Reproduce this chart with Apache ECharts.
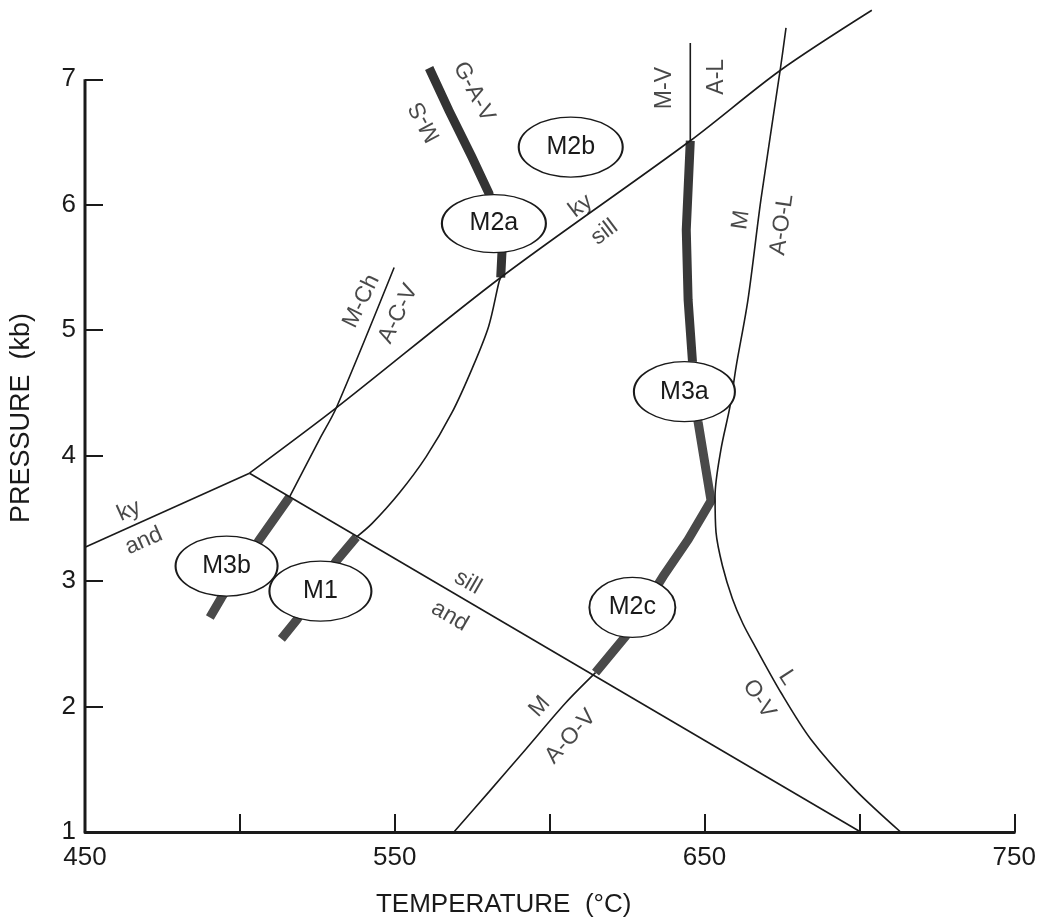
<!DOCTYPE html>
<html>
<head>
<meta charset="utf-8">
<script src="https://cdn.jsdelivr.net/npm/echarts@6/dist/echarts.min.js"></script>
<style>
  html, body { margin: 0; padding: 0; background: #fff; }
  #chart { width: 1039px; height: 923px; }
</style>
</head>
<body>
<div id="chart"></div>
<script>
// axis ticks / labels
const xTickValues = [500, 550, 600, 650, 700, 750];
const xLabelValues = [450, 550, 650, 750];
const yTickValues = [1, 2, 3, 4, 5, 6, 7];

// thin reaction curves  [T (°C), P (kb)]
const kyAnd = [[450, 3.27], [503.1, 3.86]];
const kySill = [[503.1, 3.86], [531.1, 4.38], [584.2, 5.42], [645.4, 6.51], [674.4, 7.07], [704.0, 7.55]];
const sillAnd = [[503.1, 3.86], [700.4, 1.0]];
const mChAcv = [[549.8, 5.50], [531.1, 4.38], [525.7, 4.13], [516.0, 3.67]];
const msCurve = [[584.2, 5.42], [583.6, 5.38], [580.3, 5.03], [574.9, 4.69], [568.4, 4.34], [560.1, 3.99], [551.4, 3.70], [542.7, 3.46], [537.6, 3.35]];
const mvAl = [[645.4, 7.29], [645.4, 6.51]];
const aolOv = [[676.3, 7.41], [674.4, 7.07], [668.2, 6.04], [664.0, 5.24], [660.2, 4.71], [658.2, 4.39], [655.3, 4.05], [653.4, 3.68],
  [653.7, 3.39], [655.8, 3.12], [659.0, 2.86], [662.4, 2.66], [666.3, 2.48], [674.7, 2.11], [684.3, 1.74], [698.5, 1.34], [713.3, 1.0]];
const aov = [[569.1, 1.0], [580.4, 1.32], [592.3, 1.66], [605.2, 2.03], [614.8, 2.27]];

// thick P-T paths
const pathM2ab = [[561.1, 7.09], [567.5, 6.75], [574.9, 6.38], [580.4, 6.09], [582.0, 5.86], [584.6, 5.62], [584.2, 5.42]];
const pathM3b = [[516.0, 3.67], [506.3, 3.33], [494.1, 2.87], [490.3, 2.71]];
const pathM1 = [[537.6, 3.35], [531.1, 3.16], [518.3, 2.69], [513.4, 2.54]];
const pathM2c = [[614.8, 2.27], [624.5, 2.56], [636.7, 3.04], [644.7, 3.33], [652.1, 3.64], [647.9, 4.27], [646.1, 4.75]];
const pathM3a = [[646.1, 4.75], [644.7, 5.24], [644.1, 5.80], [645.4, 6.51]];

// stage ellipses
const stageNames = ['M3b', 'M1', 'M2a', 'M2b', 'M2c', 'M3a'];
const stageT = [495.7, 526.0, 582.0, 606.8, 626.7, 643.5];
const stageP = [3.12, 2.92, 5.85, 6.46, 2.79, 4.51];

// line annotations
const noteText = ['ky', 'and', 'ky', 'sill', 'sill', 'and', 'M-Ch', 'A-C-V', 'G-A-V', 'M-S',
  'M-V', 'A-L', 'M', 'A-O-L', 'M', 'A-O-V', 'L', 'O-V'];
const noteT = [464.2, 469.0, 610.0, 617.7, 573.6, 567.8, 539.2, 551.1, 575.5, 559.8,
  637.0, 653.8, 661.8, 675.0, 596.8, 606.8, 676.6, 667.6];
const noteP = [3.56, 3.32, 5.99, 5.78, 2.99, 2.72, 5.23, 5.13, 6.90, 6.66,
  6.93, 7.02, 5.88, 5.84, 2.00, 1.76, 2.23, 2.06];
const noteAngle = [24, 24, 37, 37, -30, -30, 64, 64, -62, 118,
  90, 90, 82, 82, 48, 48, -57, -57];

const FONT = 'Liberation Sans, Arial, sans-serif';
const INK = '#1a1a1a';

function thin(data, smooth) {
  return {
    type: 'line', data: data, showSymbol: false, smooth: smooth ? 0.3 : false,
    lineStyle: { color: INK, width: 1.6 }, z: 3, silent: true
  };
}
function thick(data, color) {
  return {
    type: 'line', data: data, showSymbol: false, smooth: false,
    lineStyle: { color: color, width: 9, cap: 'butt', join: 'miter' }, z: 2, silent: true
  };
}

const stageSizes = [[102, 60], [102, 60], [104, 58], [104, 60], [86, 60], [101, 60]];

const chart = echarts.init(document.getElementById('chart'));
chart.setOption({
  backgroundColor: '#fff',
  animation: false,
  grid: { left: 85, right: 23, top: 4, bottom: 90 },
  xAxis: {
    type: 'value', min: 450, max: 750,
    name: 'TEMPERATURE  (°C)', nameLocation: 'middle', nameGap: 60,
    nameTextStyle: { fontFamily: FONT, fontSize: 26, color: INK, padding: [0, 92, 0, 0] },
    axisLine: { show: true, lineStyle: { color: INK, width: 3 } },
    axisTick: { show: true, inside: true, length: 18, customValues: xTickValues, lineStyle: { color: INK, width: 2 } },
    axisLabel: { customValues: xLabelValues, fontFamily: FONT, fontSize: 26, color: INK, margin: 13 },
    splitLine: { show: false }
  },
  yAxis: {
    type: 'value', min: 1, max: 7.6,
    name: 'PRESSURE  (kb)', nameLocation: 'middle', nameGap: 50,
    nameTextStyle: { fontFamily: FONT, fontSize: 27, color: INK },
    axisLine: { show: false },
    axisTick: { show: true, inside: true, length: 18, customValues: yTickValues, lineStyle: { color: INK, width: 2 } },
    axisLabel: { customValues: yTickValues, fontFamily: FONT, fontSize: 26, color: INK, margin: 9 },
    splitLine: { show: false }
  },
  series: [
    // y axis line drawn only up to 7 kb
    { type: 'line', data: [[450, 1], [450, 7]], showSymbol: false, lineStyle: { color: INK, width: 3 }, z: 4, silent: true },
    thick(pathM2ab, '#333'),
    thick(pathM3b, '#4a4a4a'),
    thick(pathM1, '#4a4a4a'),
    thick(pathM2c, '#4a4a4a'),
    thick(pathM3a, '#383838'),
    thin(kyAnd, false),
    thin(kySill, true),
    thin(sillAnd, false),
    thin(mChAcv, true),
    thin(msCurve, true),
    thin(mvAl, false),
    thin(aolOv, true),
    thin(aov, true),
    {
      type: 'scatter', z: 6, silent: true,
      symbol: 'circle',
      data: stageNames.map((n, i) => ({ name: n, value: [stageT[i], stageP[i]], symbolSize: stageSizes[i] })),
      itemStyle: { color: '#fff', borderColor: INK, borderWidth: 1.6, opacity: 1 },
      label: { show: true, position: 'inside', formatter: '{b}', fontFamily: FONT, fontSize: 25, color: INK }
    },
    {
      type: 'scatter', z: 7, silent: true, symbolSize: 0,
      data: noteText.map((t, i) => ({
        name: t, value: [noteT[i], noteP[i]],
        label: { rotate: noteAngle[i] }
      })),
      label: { show: true, position: 'inside', formatter: '{b}', fontFamily: FONT, fontSize: 23, color: INK }
    }
  ]
});
</script>
</body>
</html>
